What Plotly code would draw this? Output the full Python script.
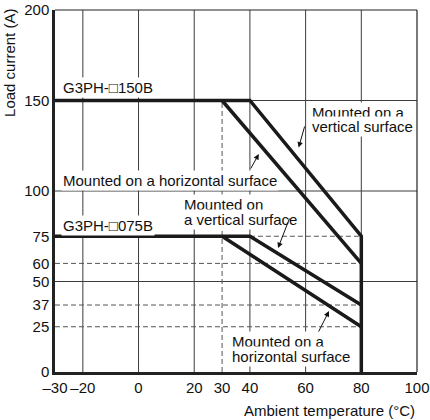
import plotly.graph_objects as go

# ---- data ----
x_ticks = [-30, -20, 0, 20, 30, 40, 60, 80, 100]
x_tick_text = ["–30", "–20", "0", "20", "30", "40", "60", "80", "100"]
y_ticks = [0, 25, 37, 50, 60, 75, 100, 150, 200]
y_tick_text = ["0", "25", "37", "50", "60", "75", "100", "150", "200"]

grid_x = [-20, 0, 20, 40, 60, 80]
grid_y = [50, 100, 150]

# G3PH-□150B
temp_150_vert = [-30, 40, 80, 80]
load_150_vert = [150, 150, 75, 0]
temp_150_horiz = [30, 80]
load_150_horiz = [150, 60]

# G3PH-□075B
temp_075_vert = [-30, 40, 80]
load_075_vert = [75, 75, 37]
temp_075_horiz = [30, 80]
load_075_horiz = [75, 25]

X_MIN, X_MAX = -30, 100
Y_MIN, Y_MAX = 0, 200

LINE = "#1a1a1a"
GRID = "#3c3c3c"
DASH = "#555555"
FONT = "Liberation Sans, Arial, sans-serif"
FS = 15

fig = go.Figure()

for tx, ly in [(temp_150_vert, load_150_vert), (temp_150_horiz, load_150_horiz),
               (temp_075_vert, load_075_vert), (temp_075_horiz, load_075_horiz)]:
    fig.add_trace(go.Scatter(x=tx, y=ly, mode="lines",
                             line=dict(color=LINE, width=3.5),
                             showlegend=False, hoverinfo="skip"))

shapes = []
for gx in grid_x:
    shapes.append(dict(type="line", xref="x", yref="y", x0=gx, x1=gx, y0=Y_MIN, y1=Y_MAX,
                       line=dict(color=GRID, width=1), layer="below"))
for gy in grid_y:
    shapes.append(dict(type="line", xref="x", yref="y", x0=X_MIN, x1=X_MAX, y0=gy, y1=gy,
                       line=dict(color=GRID, width=1), layer="below"))
dash_style = "5px,3px"
end_t = temp_150_vert[-1]
for gy in [load_150_horiz[-1], load_075_vert[-1], load_075_horiz[-1]]:
    shapes.append(dict(type="line", xref="x", yref="y", x0=X_MIN, x1=end_t, y0=gy, y1=gy,
                       line=dict(color=DASH, width=1, dash=dash_style), layer="below"))
shapes.append(dict(type="line", xref="x", yref="y", x0=temp_075_vert[1], x1=end_t,
                   y0=load_075_vert[0], y1=load_075_vert[0],
                   line=dict(color=DASH, width=1, dash=dash_style), layer="below"))
shapes.append(dict(type="line", xref="x", yref="y", x0=temp_150_horiz[0], x1=temp_150_horiz[0],
                   y0=Y_MIN, y1=load_150_horiz[0],
                   line=dict(color=DASH, width=1, dash=dash_style), layer="below"))
shapes.append(dict(type="line", xref="paper", yref="paper", x0=0, x1=1, y0=1, y1=1,
                   line=dict(color="#222", width=1.2)))
shapes.append(dict(type="line", xref="paper", yref="paper", x0=1, x1=1, y0=0, y1=1,
                   line=dict(color="#222", width=1.2)))

ann = []
def label(text, x, y):
    ann.append(dict(text=text, x=x, y=y, xref="x", yref="y", xanchor="left", yanchor="middle",
                    showarrow=False, bgcolor="white", borderpad=1,
                    font=dict(family=FONT, size=FS, color="#111")))

def arrow(x_head, y_head, x_tail, y_tail):
    ann.append(dict(text="", x=x_head, y=y_head, ax=x_tail, ay=y_tail,
                    xref="x", yref="y", axref="x", ayref="y",
                    showarrow=True, arrowhead=2, arrowsize=1.1, arrowwidth=1,
                    arrowcolor="#111", standoff=0))

label("G3PH-\u25A1150B", -28.0, 157)
label("G3PH-\u25A1075B", -28.0, 81.2)
label("Mounted on a", 61.6, 143.6)
label("vertical surface", 61.6, 135.9)
label("Mounted on a horizontal surface", -27.8, 106)
label("Mounted on", 15.7, 92.3)
label("a vertical surface", 15.7, 84.0)
label("Mounted on a", 32.9, 16.6)
label("horizontal surface", 32.9, 8.3)

arrow(57.5, 124, 59.8, 136.5)
arrow(43.2, 120.4, 40.0, 111.6)
arrow(50.1, 68.5, 54.4, 85.6)
arrow(68.4, 33.7, 64.4, 21.5)

ann.append(dict(text="Load current (A)", x=-0.124, y=0.854, xref="paper", yref="paper",
                textangle=-90, showarrow=False, xanchor="center", yanchor="middle",
                font=dict(family=FONT, size=FS, color="#111")))
ann.append(dict(text="Ambient temperature (\u00B0C)", x=1.0, y=-0.105, xref="paper", yref="paper",
                showarrow=False, xanchor="right", yanchor="middle",
                font=dict(family=FONT, size=FS, color="#111")))

fig.update_layout(
    width=430, height=420,
    margin=dict(l=55, r=13, t=10, b=48),
    paper_bgcolor="white", plot_bgcolor="white",
    shapes=shapes, annotations=ann,
    font=dict(family=FONT, size=FS, color="#111"),
    xaxis=dict(range=[X_MIN, X_MAX], tickmode="array", tickvals=x_ticks, ticktext=x_tick_text,
               showgrid=False, zeroline=False, showline=True, linecolor="#222", linewidth=2.5,
               ticks="", fixedrange=True, automargin=False),
    yaxis=dict(range=[Y_MIN, Y_MAX], tickmode="array", tickvals=y_ticks, ticktext=y_tick_text,
               showgrid=False, zeroline=False, showline=True, linecolor="#222", linewidth=2.5,
               ticks="", fixedrange=True, automargin=False, ticklabelstandoff=0),
)

fig.write_html("out.html", config={"responsive": False, "displayModeBar": False},
               post_script="document.body.style.margin='0';document.body.style.overflow='hidden';")
